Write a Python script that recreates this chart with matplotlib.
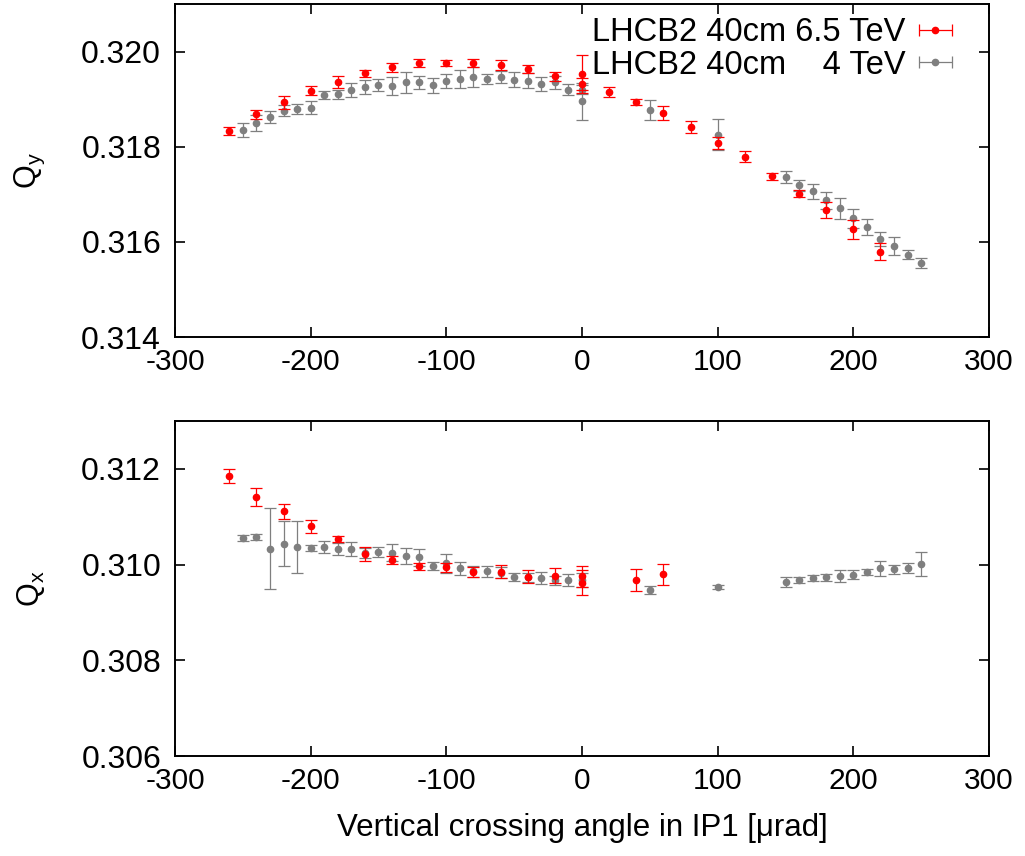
import numpy as np
import matplotlib
matplotlib.use('Agg')
import matplotlib.pyplot as plt

plt.rcParams['font.family'] = ['Liberation Sans', 'DejaVu Sans']
plt.rcParams['font.size'] = 21
plt.rcParams['mathtext.default'] = 'regular'
plt.rcParams['axes.unicode_minus'] = False

# 6.5 TeV (red), vertical tune
x_red_top = [-260, -240, -220, -200, -180, -160, -140, -120, -100, -80, -60, -40, -20, 0, 0,
             20, 40, 60, 80, 100, 120, 140, 160, 180, 200, 220]
qy_red = [0.31833, 0.31868, 0.31893, 0.31918, 0.31936, 0.31954, 0.31967, 0.31976, 0.31976, 0.31976,
          0.31972, 0.31963, 0.31948, 0.31953, 0.31932, 0.31915, 0.31894, 0.31871, 0.31841, 0.31808,
          0.31779, 0.31738, 0.31701, 0.31667, 0.31626, 0.31579]
qy_red_err = [0.00008, 0.0001, 0.00013, 0.0001, 0.00012, 0.00008, 0.00009, 0.00009, 0.00006, 0.00008,
              0.0001, 0.00008, 0.0001, 0.0004, 0.00012, 0.0001, 0.00007, 0.00014, 0.00012, 0.00013,
              0.00011, 0.00007, 0.00007, 0.00016, 0.00019, 0.00018]

# 4 TeV (gray), vertical tune
x_gray_top = [-250, -240, -230, -220, -210, -200, -190, -180, -170, -160, -150, -140, -130, -120,
              -110, -100, -90, -80, -70, -60, -50, -40, -30, -20, -10, 0, 0, 50, 100,
              150, 160, 170, 180, 190, 200, 210, 220, 230, 240, 250]
qy_gray = [0.31835, 0.31850, 0.31863, 0.31876, 0.31879, 0.31882, 0.31909, 0.31910, 0.31919, 0.31926,
           0.31930, 0.31927, 0.31935, 0.31935, 0.31929, 0.31938, 0.31943, 0.31946, 0.31942, 0.31947,
           0.31941, 0.31939, 0.31931, 0.31935, 0.31920, 0.31920, 0.31895, 0.31878, 0.31825,
           0.31736, 0.31719, 0.31706, 0.31687, 0.31671, 0.31650, 0.31631, 0.31606, 0.31591, 0.31573, 0.31555]
qy_gray_err = [0.00015, 0.00017, 0.00013, 0.00012, 0.00011, 0.00013, 0.00009, 0.00009, 0.00015, 0.00015,
               0.00013, 0.00019, 0.00022, 0.00013, 0.00016, 0.00014, 0.00019, 0.00021, 0.0001, 0.00013,
               0.00016, 0.00015, 0.00015, 0.00013, 0.00011, 0.0001, 0.00038, 0.00021, 0.00033,
               0.00012, 0.00012, 0.00016, 0.00017, 0.00022, 0.0002, 0.00016, 0.00015, 0.00019, 0.0001, 0.0001]

# 6.5 TeV (red), horizontal tune
x_red_bot = [-260, -240, -220, -200, -180, -160, -140, -120, -100, -80, -60, -40, -20, 0, 0, 40, 60]
qx_red = [0.31185, 0.31141, 0.31111, 0.31080, 0.31053, 0.31022, 0.31010, 0.30996, 0.30994, 0.30984,
          0.30985, 0.30975, 0.30977, 0.30976, 0.30962, 0.30967, 0.30980]
qx_red_err = [0.00015, 0.00019, 0.00016, 0.00014, 0.00006, 0.00015, 0.00008, 0.00007, 0.00009, 0.0001,
              0.00014, 0.00013, 0.00015, 0.00022, 0.00026, 0.00023, 0.00022]

# 4 TeV (gray), horizontal tune
x_gray_bot = [-250, -240, -230, -220, -210, -200, -190, -180, -170, -160, -150, -140, -130, -120,
              -110, -100, -90, -80, -70, -60, -50, -40, -30, -20, -10, 0, 50, 100,
              150, 160, 170, 180, 190, 200, 210, 220, 230, 240, 250]
qx_gray = [0.31056, 0.31057, 0.31033, 0.31044, 0.31036, 0.31034, 0.31037, 0.31033, 0.31033, 0.31024,
           0.31026, 0.31025, 0.31018, 0.31015, 0.30997, 0.31003, 0.30992, 0.30986, 0.30986, 0.30983,
           0.30974, 0.30973, 0.30972, 0.30967, 0.30968, 0.30968, 0.30947, 0.30953,
           0.30963, 0.30968, 0.30972, 0.30973, 0.30976, 0.30979, 0.30984, 0.30992, 0.30990, 0.30993, 0.31001]
qx_gray_err = [0.00006, 0.00006, 0.00085, 0.00046, 0.00054, 0.00006, 0.00013, 0.00013, 0.00015, 0.00011,
               0.0001, 0.00017, 0.00017, 0.00017, 0.00008, 0.0002, 0.00014, 0.00011, 0.00011, 0.00012,
               0.00008, 0.0001, 0.00013, 0.0001, 0.00012, 0.00015, 0.00008, 0.00004,
               0.0001, 0.00007, 0.00006, 0.00008, 0.00012, 0.00009, 0.00006, 0.00015, 0.0001, 0.0001, 0.00025]

label_red = 'LHCB2 40cm 6.5 TeV'
label_gray = 'LHCB2 40cm    4 TeV'
red = '#ff0000'
gray = '#7f7f7f'
style = dict(fmt='o', ms=4.5, elinewidth=0.9, capsize=4, capthick=0.9)


def setup(ax, ylim, yticks, ylabel):
    ax.set_xlim(-300, 300)
    ax.set_ylim(*ylim)
    ax.set_xticks(np.arange(-300, 301, 100))
    ax.set_yticks(yticks)
    ax.set_yticklabels(['%.3f' % t for t in yticks])
    ax.tick_params(direction='in', top=True, right=True, length=7, width=1.2)
    ax.tick_params(axis='x', pad=8, labelsize=21.5)
    ax.tick_params(axis='y', pad=10, labelsize=23)
    for s in ax.spines.values():
        s.set_linewidth(1.4)
    ax.set_ylabel(ylabel, fontsize=22)
    ax.yaxis.set_label_coords(-0.157, 0.5)


def main():
    fig = plt.figure(figsize=(10.25, 8.56), dpi=100)
    ax1 = fig.add_axes([0.1707, 0.6063, 0.7942, 0.3891])
    ax2 = fig.add_axes([0.1707, 0.1168, 0.7942, 0.3914])

    ax1.errorbar(x_gray_top, qy_gray, yerr=qy_gray_err, color=gray, zorder=2, **style)
    ax1.errorbar(x_red_top, qy_red, yerr=qy_red_err, color=red, zorder=3, **style)
    ax2.errorbar(x_gray_bot, qx_gray, yerr=qx_gray_err, color=gray, zorder=2, **style)
    ax2.errorbar(x_red_bot, qx_red, yerr=qx_red_err, color=red, zorder=3, **style)

    setup(ax1, (0.314, 0.321), [0.314, 0.316, 0.318, 0.320], 'Q$_y$')
    setup(ax2, (0.306, 0.313), [0.306, 0.308, 0.310, 0.312], 'Q$_x$')
    ax2.set_xlabel('Vertical crossing angle in IP1 [\u03bcrad]', fontsize=22.5, labelpad=13)

    # legend proxies with horizontal bars, gnuplot style
    h_red = ax1.errorbar([np.nan], [np.nan], xerr=[1], color=red, **style)
    h_gray = ax1.errorbar([np.nan], [np.nan], xerr=[1], color=gray, **style)
    ax1.legend([h_red, h_gray], [label_red, label_gray], loc='upper right', frameon=False,
               markerfirst=False, handlelength=1.2, handletextpad=0.3, labelspacing=0.05,
               borderaxespad=0.2, borderpad=0.1, fontsize=23.5,
               bbox_to_anchor=(0.97, 0.99))

    fig.savefig('out.png', dpi=100)


if __name__ == '__main__':
    main()
